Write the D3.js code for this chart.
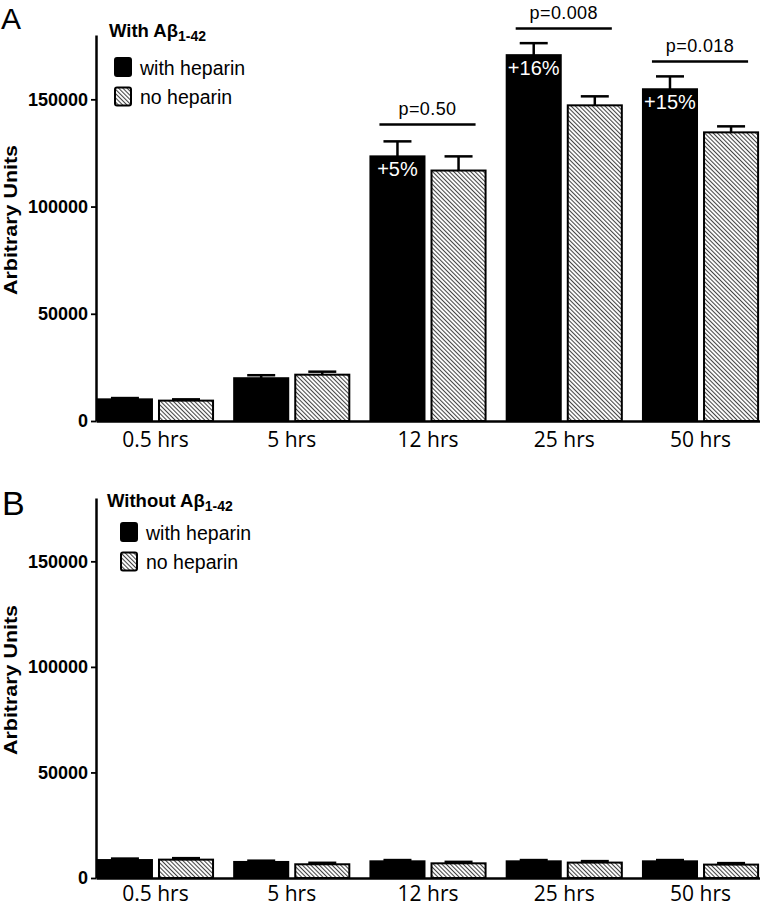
<!DOCTYPE html>
<html><head><meta charset="utf-8">
<script src="https://cdn.jsdelivr.net/npm/d3@7"></script>
<style>body{margin:0;background:#fff}svg{display:block}</style>
</head><body><svg id="c" width="760" height="908"></svg>
<script>
const categories = ["0.5 hrs","5 hrs","12 hrs","25 hrs","50 hrs"];
const seriesNames = ["with heparin","no heparin"];
const aWith    = [10100, 19950, 123400, 170600, 154700];
const aWithErr = [600, 1400, 7000, 5600, 6000];
const aNo      = [9500, 21600, 116800, 147200, 134600];
const aNoErr   = [600, 1400, 6600, 4200, 2800];
const bWith    = [8500, 7600, 7900, 7900, 7900];
const bWithErr = [700, 600, 600, 600, 600];
const bNo      = [8700, 6500, 6950, 7300, 6350];
const bNoErr   = [700, 700, 700, 700, 700];
const yTicks = [0, 50000, 100000, 150000];
const yMax = 180000;
const pLabels = ["", "", "p=0.50", "p=0.008", "p=0.018"];
const pLevels = [0, 0, 138300, 183000, 167700];
const pctLabels = ["", "", "+5%", "+16%", "+15%"];

const svg = d3.select("#c");
const defs = svg.append("defs");
const pat = defs.append("pattern").attr("id","hatch").attr("patternUnits","userSpaceOnUse")
  .attr("width",3).attr("height",3).attr("patternTransform","rotate(-45)");
pat.append("rect").attr("width",3).attr("height",3).attr("fill","#fff");
pat.append("line").attr("x1",0.5).attr("y1",0).attr("x2",0.5).attr("y2",3)
  .attr("stroke","#444").attr("stroke-width",1.1);

const x0 = d3.scaleBand().domain(categories).range([96, 760]).paddingInner(0.155).paddingOuter(0.014);
const x1 = d3.scaleBand().domain(seriesNames).range([0, x0.bandwidth()]).paddingInner(0.115);
const fills = ["#000", "url(#hatch)"];
const tickFont = "Liberation Sans, Arial, sans-serif";

function panel(opt) {
  const y = d3.scaleLinear().domain([0, yMax]).range([opt.y0, opt.y1]);
  const g = svg.append("g");
  // panel letter
  g.append("text").attr("x", opt.letterX).attr("y", opt.letterY)
    .attr("font-family", tickFont).attr("font-size", opt.letterSize)
    .text(opt.letter);
  // y label
  const my = (opt.y0 + opt.y1) / 2 + opt.labelShift;
  g.append("text").attr("transform", `translate(17,${my}) rotate(-90)`)
    .attr("text-anchor","middle").attr("font-family", tickFont).attr("font-weight","bold")
    .attr("font-size", 18).attr("textLength", 150).attr("lengthAdjust","spacingAndGlyphs")
    .text("Arbitrary Units");

  const series = [opt.with, opt.no];
  const errs = [opt.withErr, opt.noErr];
  const groups = g.selectAll("g.grp").data(categories).join("g")
    .attr("transform", d => `translate(${x0(d)},0)`);
  seriesNames.forEach((s, si) => {
    groups.append("rect")
      .attr("x", x1(s)).attr("width", x1.bandwidth())
      .attr("y", (d, i) => y(series[si][i]))
      .attr("height", (d, i) => y(0) - y(series[si][i]))
      .attr("fill", fills[si]).attr("stroke","#000").attr("stroke-width",2);
    groups.append("line")
      .attr("x1", x1(s) + x1.bandwidth()/2).attr("x2", x1(s) + x1.bandwidth()/2)
      .attr("y1", (d, i) => y(series[si][i])).attr("y2", (d, i) => y(series[si][i] + errs[si][i]))
      .attr("stroke","#000").attr("stroke-width",2.5);
    groups.append("line")
      .attr("x1", x1(s) + x1.bandwidth()/2 - 14).attr("x2", x1(s) + x1.bandwidth()/2 + 14)
      .attr("y1", (d, i) => y(series[si][i] + errs[si][i])).attr("y2", (d, i) => y(series[si][i] + errs[si][i]))
      .attr("stroke","#000").attr("stroke-width",2.5);
  });

  if (opt.annot) {
    groups.filter((d, i) => pctLabels[i] !== "").append("text")
      .attr("x", x1(seriesNames[0]) + x1.bandwidth()/2)
      .attr("y", d => y(opt.with[categories.indexOf(d)]) + 19.5)
      .attr("text-anchor","middle").attr("fill","#fff")
      .attr("font-family", tickFont).attr("font-size", 20)
      .text(d => pctLabels[categories.indexOf(d)]);
    const ann = groups.filter((d, i) => pLabels[i] !== "");
    ann.append("line")
      .attr("x1", 9).attr("x2", x0.bandwidth() - 10)
      .attr("y1", d => y(pLevels[categories.indexOf(d)])).attr("y2", d => y(pLevels[categories.indexOf(d)]))
      .attr("stroke","#000").attr("stroke-width",2.5);
    ann.append("text")
      .attr("x", x0.bandwidth()/2 - 0.5)
      .attr("y", d => y(pLevels[categories.indexOf(d)]) - 9.5)
      .attr("text-anchor","middle").attr("font-family", tickFont).attr("font-size", 18)
      .attr("letter-spacing", 0.4)
      .text(d => pLabels[categories.indexOf(d)]);
  }

  // axes
  const ya = g.append("g").attr("transform","translate(96,0)")
    .call(d3.axisLeft(y).tickValues(yTicks).tickFormat(d3.format("d")).tickSize(5).tickSizeOuter(0).tickPadding(3));
  ya.select(".domain").attr("stroke-width",2.5);
  ya.selectAll(".tick line").attr("stroke-width",1.8);
  ya.selectAll(".tick text").attr("font-family", tickFont).attr("font-weight","bold")
    .attr("font-size",18).attr("fill","#000");
  const xa = g.append("g").attr("transform",`translate(0,${opt.y0})`)
    .call(d3.axisBottom(x0).tickSize(0).tickPadding(opt.xPad));
  xa.select(".domain").attr("stroke-width",2.5);
  xa.selectAll(".tick text").attr("font-family","Open Sans, sans-serif").attr("font-size",21).attr("fill","#000");

  // legend
  const t = g.append("text").attr("x", opt.legX).attr("y", opt.legY)
    .attr("font-family", tickFont).attr("font-weight","bold").attr("font-size",18.5);
  t.append("tspan").text(opt.title + " A\u03B2");
  t.append("tspan").attr("font-size",14).attr("dy",4).text("1-42");
  seriesNames.forEach((s, si) => {
    g.append("rect").attr("x", opt.swX).attr("y", opt.swY + si*29.5).attr("width",16).attr("height",18)
      .attr("rx",2).attr("fill", fills[si]).attr("stroke","#000").attr("stroke-width",2);
    g.append("text").attr("x", opt.swX + 25).attr("y", opt.swY + 17 + si*28.5)
      .attr("font-family", tickFont).attr("font-size",19.5).text(s);
  });
}

panel({y0:421, y1:35, letter:"A", letterX:1, letterY:29, letterSize:30, labelShift:-8, xPad:11,
  with:aWith, withErr:aWithErr, no:aNo, noErr:aNoErr, annot:true,
  title:"With", legX:109, legY:37, swX:115, swY:58});
panel({y0:878, y1:498, letter:"B", letterX:2, letterY:515, letterSize:34, labelShift:-8, xPad:8,
  with:bWith, withErr:bWithErr, no:bNo, noErr:bNoErr, annot:false,
  title:"Without", legX:107, legY:507, swX:121, swY:523});
</script></body></html>
